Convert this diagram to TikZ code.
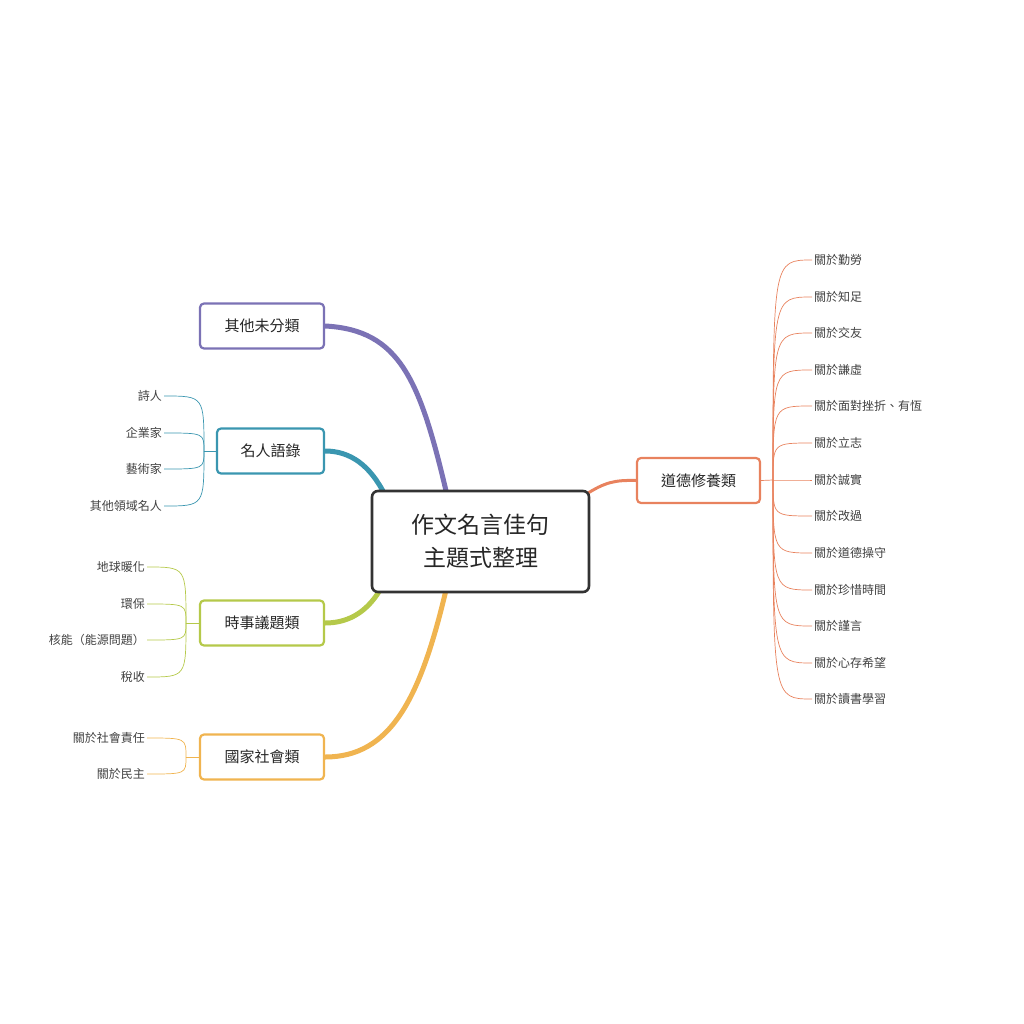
\documentclass[tikz,border=0pt]{standalone}
\usepackage{fontspec}
\setmainfont{Noto Sans CJK TC}
\begin{document}
\begin{tikzpicture}[x=1pt,y=-1pt,
  txt/.style={text=black!80},
  box/.style={draw=#1,line width=2.2pt,rounded corners=4pt,fill=white,minimum height=45pt,font=\fontsize{15}{18}\selectfont,text=black!85,inner sep=0pt},
  leafR/.style={anchor=west,font=\fontsize{12}{14}\selectfont,text=black!75,inner sep=2pt},
  leafL/.style={anchor=east,font=\fontsize{12}{14}\selectfont,text=black!75,inner sep=2pt},
  br/.style={draw=#1,line width=5pt},
  tw/.style={draw=#1,line width=0.7pt}]
\definecolor{cO}{HTML}{E8825E}
\definecolor{cP}{HTML}{7B72B5}
\definecolor{cT}{HTML}{3A96B0}
\definecolor{cG}{HTML}{B5C94A}
\definecolor{cY}{HTML}{F0B450}
\useasboundingbox (0,0) rectangle (1024,1024);
% branches
\coordinate (pA) at (447,495); \coordinate (tA) at (385,495);
\coordinate (gA) at (380,590); \coordinate (yA) at (446,590);
\coordinate (oA) at (585,495);
\node[box=cP,minimum width=124pt] (P) at (262,326) {其他未分類};
\node[box=cT,minimum width=107pt] (T) at (270.5,451) {名人語錄};
\node[box=cG,minimum width=124pt] (G) at (262,623) {時事議題類};
\node[box=cY,minimum width=124pt] (Y) at (262,757) {國家社會類};
\node[box=cO,minimum width=123pt] (O) at (698.5,480.5) {道德修養類};
\draw[br=cP] (pA) .. controls (420,380) and (400,330) .. (P.east);
\draw[br=cT] (tA) .. controls (370,465) and (350,451) .. (T.east);
\draw[br=cG] (gA) .. controls (365,615) and (345,623) .. (G.east);
\draw[br=cY] (yA) .. controls (420,700) and (390,757) .. (Y.east);
\draw[br=cO,line width=3pt] (oA) .. controls (605,482) and (615,480) .. (O.west);
\node[draw=black!80,line width=2.6pt,rounded corners=6pt,fill=white,minimum width=217pt,minimum height=101pt,align=center,font=\fontsize{23}{33}\selectfont,text=black!85] (C) at (480.5,541.5) {作文名言佳句\\主題式整理};
% right leaves
\coordinate (hO) at (773,480);
\draw[tw=cO] (O.east) -- (hO);
\foreach \i/\y/\t in {1/260/關於勤勞/實踐,2/297/關於知足/節儉,3/333/關於交友,4/370/關於謙虛/寬容,5/406/關於面對挫折、有恆,6/443/關於立志,7/480/關於誠實,8/516/關於改過,9/553/關於道德操守,10/590/關於珍惜時間,11/626/關於謹言/尊重,12/663/關於心存希望,13/699/關於讀書學習}{
  \node[leafR] (r\i) at (812,\y) {\t};
  \draw[tw=cO] (hO) .. controls (hO |- r\i.west) .. (r\i.west);
}
% teal leaves
\coordinate (hT) at (204,451);
\draw[tw=cT] (T.west) -- (hT);
\foreach \i/\y/\t in {1/396/詩人/作家/小說家,2/433/企業家,3/469/藝術家,4/506/其他領域名人}{
  \node[leafL] (t\i) at (164,\y) {\t};
  \draw[tw=cT] (hT) .. controls (hT |- t\i.east) .. (t\i.east);
}
% green leaves
\coordinate (hG) at (186,623);
\draw[tw=cG] (G.west) -- (hG);
\foreach \i/\y/\t in {1/567/地球暖化,2/604/環保,3/640/核能（能源問題）,4/677/稅收}{
  \node[leafL] (g\i) at (147,\y) {\t};
  \draw[tw=cG] (hG) .. controls (hG |- g\i.east) .. (g\i.east);
}
% yellow leaves
\coordinate (hY) at (186,757);
\draw[tw=cY] (Y.west) -- (hY);
\foreach \i/\y/\t in {1/738/關於社會責任,2/774/關於民主/法治}{
  \node[leafL] (y\i) at (147,\y) {\t};
  \draw[tw=cY] (hY) .. controls (hY |- y\i.east) .. (y\i.east);
}
\end{tikzpicture}
\end{document}
